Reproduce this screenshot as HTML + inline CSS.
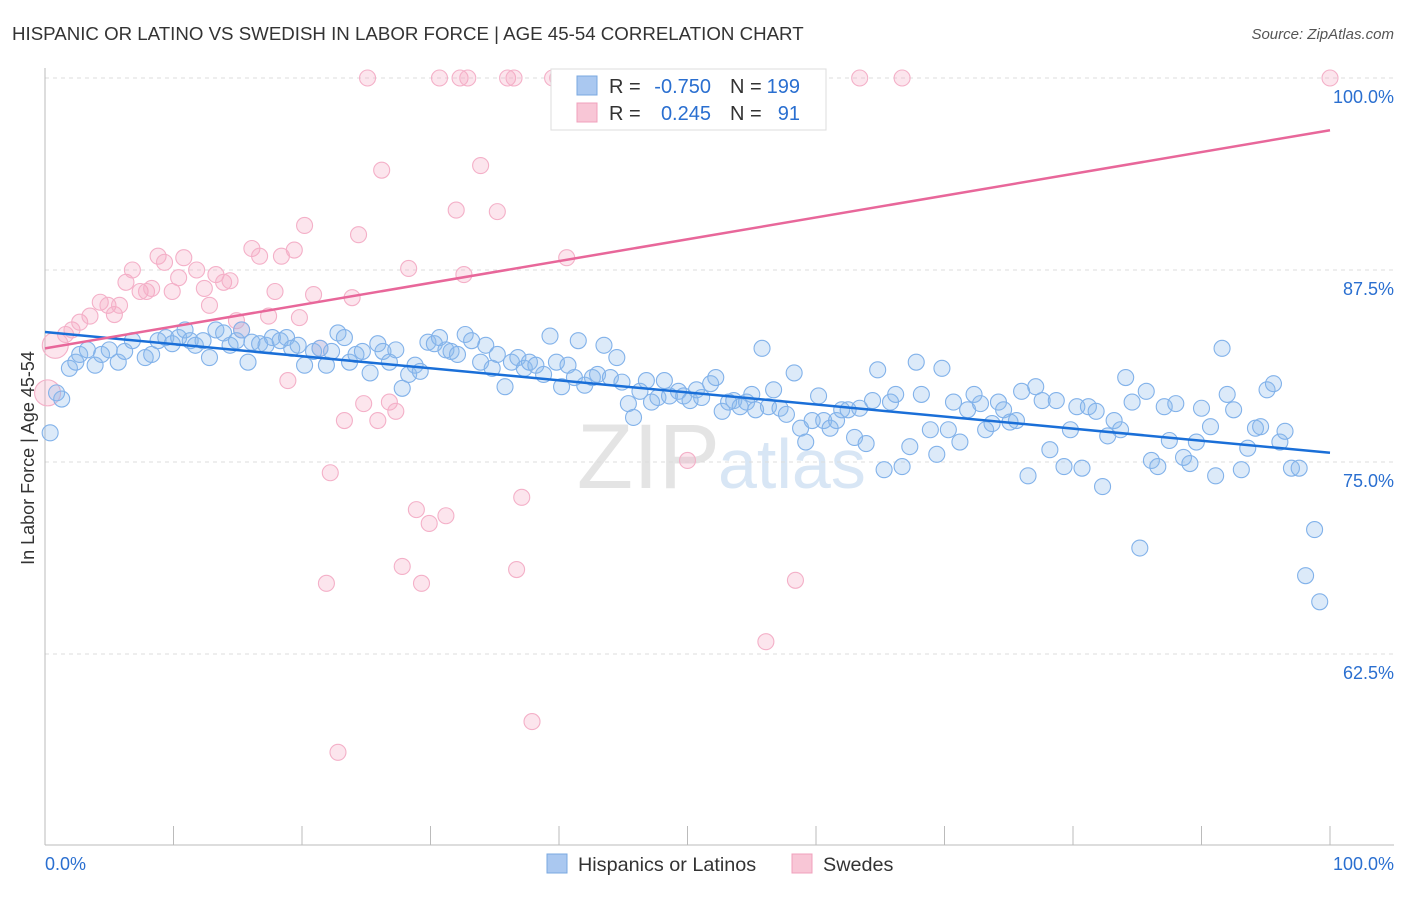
<!DOCTYPE html>
<html><head><meta charset="utf-8"><style>
body{margin:0;background:#fff;font-family:"Liberation Sans",sans-serif}
svg text{font-family:"Liberation Sans",sans-serif}
</style></head><body>
<svg id="c" width="1406" height="892" xmlns="http://www.w3.org/2000/svg">
<text x="12" y="40" font-size="18.7" fill="#333">HISPANIC OR LATINO VS SWEDISH IN LABOR FORCE | AGE 45-54 CORRELATION CHART</text>
<text x="1394" y="39" font-size="15" fill="#555" text-anchor="end" font-style="italic">Source: ZipAtlas.com</text>
<text x="34" y="458" font-size="18" fill="#333" text-anchor="middle" transform="rotate(-90 34 458)">In Labor Force | Age 45-54</text>
<text x="720" y="488" font-size="92" fill="#e4e4e4" text-anchor="end" font-family="Liberation Serif">ZIP</text>
<text x="718" y="488" font-size="70" fill="#d8e6f5">atlas</text>
<g id="grid"></g><g id="pts"></g><g id="trend"></g>
<g>
<rect x="551" y="69" width="275" height="61" fill="#fff" stroke="#ddd"/>
<rect x="577" y="76" width="20" height="19" fill="#aac8f0" stroke="#7aa8e0"/>
<rect x="577" y="103" width="20" height="19" fill="#f8c6d6" stroke="#f0a0bc"/>
<text x="609" y="93" font-size="20" fill="#333">R =</text><text x="711" y="93" font-size="20" fill="#2a6fd0" text-anchor="end">-0.750</text>
<text x="730" y="93" font-size="20" fill="#333">N =</text><text x="800" y="93" font-size="20" fill="#2a6fd0" text-anchor="end">199</text>
<text x="609" y="120" font-size="20" fill="#333">R =</text><text x="711" y="120" font-size="20" fill="#2a6fd0" text-anchor="end">0.245</text>
<text x="730" y="120" font-size="20" fill="#333">N =</text><text x="800" y="120" font-size="20" fill="#2a6fd0" text-anchor="end">91</text>
</g>
<g>
<rect x="547" y="854" width="20" height="19" fill="#aac8f0" stroke="#7aa8e0"/>
<text x="578" y="871" font-size="19.8" fill="#333">Hispanics or Latinos</text>
<rect x="792" y="854" width="20" height="19" fill="#f8c6d6" stroke="#f0a0bc"/>
<text x="823" y="871" font-size="19.8" fill="#333">Swedes</text>
</g>
</svg>
<script>
const yTicks=[100,87.5,75,62.5];
const yTickLabels=["100.0%","87.5%","75.0%","62.5%"];
const xTickVals=[0,10,20,30,40,50,60,70,80,90,100];
const blueX=[0.4,1.3,0.9,1.9,2.4,2.7,3.3,3.9,4.4,5.0,5.7,6.2,6.8,7.8,8.3,8.8,9.4,9.9,10.4,10.9,11.3,11.7,12.3,12.8,13.3,13.9,14.4,14.9,15.3,15.8,16.1,16.7,17.2,17.7,18.3,18.8,19.2,19.7,20.2,20.9,21.4,21.9,22.3,22.8,23.3,23.7,24.2,24.7,25.3,25.9,26.3,26.8,27.3,27.8,28.3,28.8,29.2,29.8,30.3,30.7,31.2,31.6,32.1,32.7,33.2,33.9,34.3,34.8,35.2,35.8,36.3,36.8,37.3,37.7,38.2,38.8,39.3,39.8,40.2,40.7,41.2,41.5,42.0,42.6,43.0,43.5,44.0,44.5,44.9,45.4,45.8,46.3,46.8,47.2,47.7,48.2,48.6,49.3,49.7,50.2,50.7,51.1,51.8,52.2,52.7,53.2,53.6,54.1,54.6,55.0,55.3,55.8,56.3,56.7,57.2,57.7,58.3,58.8,59.2,59.7,60.2,60.6,61.1,61.6,62.0,62.5,63.0,63.4,63.9,64.4,64.8,65.3,65.8,66.2,66.7,67.3,67.8,68.2,68.9,69.4,69.8,70.3,70.7,71.2,71.8,72.3,72.8,73.2,73.7,74.2,74.6,75.1,75.6,76.0,76.5,77.1,77.6,78.2,78.7,79.3,79.8,80.3,80.7,81.2,81.8,82.3,82.7,83.2,83.7,84.1,84.6,85.2,85.7,86.1,86.6,87.1,87.5,88.0,88.6,89.1,89.6,90.0,90.7,91.1,91.6,92.0,92.5,93.1,93.6,94.2,94.6,95.1,95.6,96.1,96.5,97.0,97.6,98.1,98.8,99.2];
const blueY=[76.9,79.1,79.5,81.1,81.5,82.0,82.3,81.3,82.0,82.3,81.5,82.2,82.9,81.8,82.0,82.9,83.1,82.7,83.1,83.6,82.9,82.6,82.9,81.8,83.6,83.4,82.6,82.9,83.6,81.5,82.8,82.7,82.6,83.1,82.9,83.1,82.4,82.6,81.3,82.2,82.4,81.3,82.2,83.4,83.1,81.5,82.0,82.2,80.8,82.7,82.2,81.5,82.3,79.8,80.7,81.3,80.9,82.8,82.7,83.1,82.3,82.2,82.0,83.3,82.9,81.5,82.6,81.1,82.0,79.9,81.5,81.8,81.1,81.5,81.3,80.7,83.2,81.5,79.9,81.3,80.5,82.9,80.0,80.5,80.7,82.6,80.5,81.8,80.2,78.8,77.9,79.6,80.3,78.9,79.2,80.3,79.3,79.6,79.3,79.0,79.7,79.2,80.1,80.5,78.3,78.9,79.0,78.6,78.9,79.4,78.4,82.4,78.6,79.7,78.5,78.1,80.8,77.2,76.3,77.7,79.3,77.7,77.2,77.7,78.4,78.4,76.6,78.5,76.2,79.0,81.0,74.5,78.9,79.4,74.7,76.0,81.5,79.4,77.1,75.5,81.1,77.1,78.9,76.3,78.4,79.4,78.8,77.1,77.5,78.9,78.4,77.6,77.7,79.6,74.1,79.9,79.0,75.8,79.0,74.7,77.1,78.6,74.6,78.6,78.3,73.4,76.7,77.7,77.1,80.5,78.9,69.4,79.6,75.1,74.7,78.6,76.4,78.8,75.3,74.9,76.3,78.5,77.3,74.1,82.4,79.4,78.4,74.5,75.9,77.2,77.3,79.7,80.1,76.3,77.0,74.6,74.6,67.6,70.6,65.9];
const pinkX=[0.2,0.8,1.6,2.1,2.7,3.5,4.3,4.9,5.4,5.8,6.3,6.8,7.4,7.9,8.3,8.8,9.3,9.9,10.4,10.8,11.8,12.4,12.8,13.3,13.9,14.4,14.9,15.3,16.1,16.7,17.4,17.9,18.4,18.9,19.4,19.8,20.2,20.9,21.4,22.2,21.9,22.8,23.3,23.9,24.4,24.8,25.1,25.9,26.2,26.8,27.3,27.8,28.3,28.9,29.3,29.9,30.7,31.2,32.0,32.3,32.6,32.9,33.9,35.2,36.0,36.5,36.7,37.1,37.9,39.5,39.9,40.6,41.5,44.9,50.0,53.9,56.1,58.4,63.4,66.7,100,42.4];
const pinkY=[79.5,82.6,83.3,83.6,84.1,84.5,85.4,85.2,84.6,85.2,86.7,87.5,86.1,86.1,86.3,88.4,88.0,86.1,87.0,88.3,87.5,86.3,85.2,87.2,86.7,86.8,84.2,83.6,88.9,88.4,84.5,86.1,88.4,80.3,88.8,84.4,90.4,85.9,82.4,74.3,67.1,56.1,77.7,85.7,89.8,78.8,100,77.7,94.0,78.9,78.3,68.2,87.6,71.9,67.1,71.0,100,71.5,91.4,100,87.2,100,94.3,91.3,100,100,68.0,72.7,58.1,100,100,88.3,100,100,75.1,100,63.3,67.3,100,100,100,100];
const blueTrend=[83.46,75.6];
const pinkTrend=[82.4,96.6];
const NS="http://www.w3.org/2000/svg";
const X0=45,X1=1330,YTOP=78,PXPER=15.36;
function sx(v){return X0+(X1-X0)*v/100;}
function sy(v){return YTOP+(100-v)*PXPER;}
function mk(t,a,p){const e=document.createElementNS(NS,t);for(const k in a)e.setAttribute(k,a[k]);p.appendChild(e);return e;}
const grid=document.getElementById('grid');
yTicks.forEach((v,i)=>{
 const l=mk('line',{x1:X0,x2:1394,y1:sy(v),y2:sy(v),stroke:'#ddd','stroke-dasharray':'4,4'},grid);
 
 
 const t=mk('text',{x:1394,y:sy(v)+25,'font-size':18,fill:'#2a6fd0','text-anchor':'end'},grid);
 t.textContent=yTickLabels[i];
 
 
});
const ax=mk('line',{x1:X0,x2:1394,y1:845,y2:845,stroke:'#bbb'},grid);


const ay=mk('line',{x1:X0,x2:X0,y1:68,y2:845,stroke:'#bbb'},grid);


xTickVals.forEach(v=>{
 const t=mk('line',{x1:sx(v),x2:sx(v),y1:826,y2:845,stroke:'#bbb'},grid);
 
 
});
const xl0=mk('text',{x:45,y:870,'font-size':18,fill:'#2a6fd0'},grid);xl0.textContent='0.0%';


const xl1=mk('text',{x:1394,y:870,'font-size':18,fill:'#2a6fd0','text-anchor':'end'},grid);xl1.textContent='100.0%';


const pts=document.getElementById('pts');
pinkX.forEach((x,i)=>{
 const c=mk('circle',{cx:sx(x),cy:sy(pinkY[i]),r:(i<2?13:8),fill:'rgba(246,170,196,0.3)',stroke:'#f4b0c8','stroke-width':1.1},pts);
 
 
});
blueX.forEach((x,i)=>{
 const c=mk('circle',{cx:sx(x),cy:sy(blueY[i]),r:8,fill:'rgba(140,185,235,0.3)',stroke:'#82b2ea','stroke-width':1.1},pts);
 
 
});
const tr=document.getElementById('trend');
const bl=mk('line',{x1:sx(0),y1:sy(blueTrend[0]),x2:sx(100),y2:sy(blueTrend[1]),stroke:'#1a6fd8','stroke-width':2.5},tr);


const pl=mk('line',{x1:sx(0),y1:sy(pinkTrend[0]),x2:sx(100),y2:sy(pinkTrend[1]),stroke:'#e8679a','stroke-width':2.5},tr);


</script>
</body></html>
